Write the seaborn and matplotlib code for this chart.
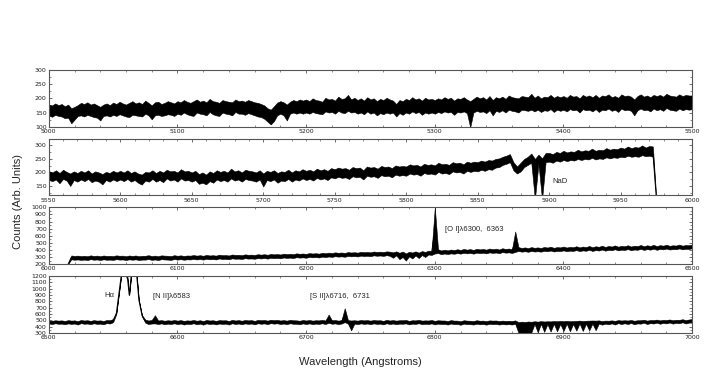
import seaborn as sns
import matplotlib.pyplot as plt
import numpy as np
from matplotlib.ticker import MultipleLocator, AutoMinorLocator

sns.set_theme(style="ticks")
plt.rcParams['font.family'] = ['DejaVu Sans']

# wavelength grids (Angstroms), 2.5 A bins
wl_1 = np.arange(5000, 5500.1, 2.5)
wl_2 = np.arange(5550, 5975.1, 2.5)
wl_3 = np.arange(6015, 6500.1, 2.5)
wl_4 = np.arange(6500, 7000.1, 2.5)

# lower / upper edge of the noisy spectrum in each bin
hi_1 = [178,175,182,176,180,172,178,165,170,176,184,180,186,178,182,176,170,178,182,176,
        185,180,188,182,178,184,190,182,186,180,192,184,175,186,188,180,184,190,186,182,
        190,186,194,188,184,190,196,188,192,186,198,190,188,184,194,190,188,186,196,190,
        192,188,194,190,186,184,180,175,165,160,172,185,190,186,178,188,194,190,196,192,
        196,190,200,194,192,188,202,196,198,192,206,198,200,212,196,202,194,200,192,204,
        196,200,190,198,194,202,196,192,180,194,190,198,194,204,196,200,192,202,196,198,
        194,200,196,204,198,202,192,200,198,204,196,190,198,206,200,204,196,208,194,204,
        200,206,198,210,204,202,200,208,206,204,216,202,210,200,206,204,212,202,208,204,
        208,202,212,206,208,200,212,206,210,204,212,202,210,208,214,204,208,202,214,208,
        210,206,196,208,214,206,210,204,212,208,212,206,216,210,208,206,214,208,212,210,
        210]
lo_1 = [140,135,142,138,136,130,132,112,125,138,140,136,142,138,134,132,122,138,140,136,
        142,138,144,140,136,134,142,140,138,136,146,140,126,140,142,138,140,144,142,138,
        146,142,150,144,140,138,150,146,144,140,152,144,140,138,150,146,144,140,152,146,
        146,142,148,144,140,136,134,128,118,108,120,140,146,140,122,146,150,146,150,146,
        150,146,152,148,146,144,154,150,152,146,156,150,148,156,150,152,146,150,144,154,
        146,150,140,148,144,150,146,150,136,148,142,150,146,154,148,152,142,150,146,150,
        146,152,148,154,150,152,142,152,150,154,148,98,150,156,152,154,148,158,140,156,
        152,158,150,160,156,154,150,160,158,156,160,154,160,152,158,156,162,152,160,156,
        160,154,162,158,160,150,162,158,160,154,162,152,160,158,164,156,160,152,164,158,
        160,156,140,158,164,158,160,154,164,158,162,156,166,160,158,156,164,158,162,160,
        162]

hi_2 = [205,200,208,198,210,202,196,204,198,206,200,208,196,204,200,194,202,198,206,200,
        206,200,208,198,204,196,192,202,200,208,198,206,200,210,204,206,200,212,204,206,
        200,206,194,200,192,204,198,208,202,206,200,214,204,208,200,210,206,204,200,208,
        196,206,202,208,198,204,202,210,200,208,204,212,206,210,204,214,208,212,206,216,
        212,218,214,216,210,220,216,218,208,222,218,220,214,224,220,222,216,226,222,224,
        222,230,226,228,222,232,228,230,226,236,230,232,228,238,234,236,230,240,236,240,
        238,244,240,246,244,250,252,258,262,268,238,222,236,250,258,270,250,266,252,272,
        272,268,276,272,280,274,278,276,284,278,282,280,288,280,284,282,290,284,288,286,
        292,288,296,290,294,292,300,292,298,296,100]
lo_2 = [172,168,174,160,176,170,150,172,166,174,168,176,164,170,166,156,172,166,174,168,
        174,168,176,166,172,162,155,170,166,176,166,172,164,178,170,174,166,178,170,172,
        166,172,158,162,156,168,162,174,168,172,166,178,170,174,166,176,172,170,166,174,
        148,172,168,174,162,170,168,176,166,174,170,178,172,176,170,180,174,178,172,182,
        178,184,180,182,176,186,182,184,174,188,184,186,180,190,186,188,182,192,188,190,
        188,196,192,194,188,198,194,196,192,202,196,198,194,204,200,202,196,206,202,206,
        204,210,206,212,210,218,220,228,232,238,208,196,204,220,228,236,100,232,100,238,
        240,236,244,240,246,242,246,244,250,246,250,248,254,248,252,250,256,252,256,254,
        258,256,262,258,260,258,264,260,262,258,100]

hi_3 = [200,322,316,320,314,318,312,324,316,320,312,322,316,318,314,324,318,320,312,322,
        316,322,312,318,318,326,314,320,312,324,320,318,314,326,318,324,316,322,320,328,
        320,326,318,330,322,326,320,334,326,328,322,336,330,332,326,338,332,334,330,340,
        334,340,332,344,338,342,336,348,342,346,340,352,346,350,344,356,350,354,348,360,
        354,362,356,366,360,364,358,370,364,368,362,374,368,372,366,378,372,376,370,380,
        376,366,380,360,378,350,374,364,380,362,384,372,390,386,1000,410,392,404,394,406,
        398,410,400,414,404,412,400,416,408,414,404,420,410,418,406,424,414,420,410,660,
        440,428,436,426,440,430,436,428,442,434,446,430,440,436,448,434,444,438,452,436,
        448,440,456,438,452,444,460,442,456,448,464,446,458,452,466,448,460,454,470,452,
        466,456,472,454,468,460,474,458,466,462,476,460,470,466,478]
lo_3 = [200,268,262,266,260,264,258,270,262,266,258,268,262,264,260,270,264,266,258,268,
        262,268,258,264,264,272,260,266,258,270,266,264,260,272,264,270,262,268,266,274,
        266,272,264,276,268,272,266,280,272,274,268,282,276,278,272,284,278,280,276,286,
        280,286,278,290,284,288,282,294,288,292,286,298,292,296,290,302,296,300,294,306,
        300,308,302,312,306,310,304,316,310,314,308,320,314,318,312,324,318,322,316,326,
        318,290,324,270,300,250,310,280,322,286,328,300,336,330,350,356,340,350,342,352,
        346,356,348,360,352,358,348,362,356,360,352,366,358,364,354,370,362,366,358,372,
        386,376,382,374,386,378,382,376,388,382,392,378,386,384,394,382,390,386,398,384,
        394,388,402,386,398,392,406,390,402,396,410,394,404,400,412,396,406,402,416,400,
        412,404,418,402,414,408,420,406,412,410,422,408,416,414,424]

hi_4 = [496,490,500,494,498,488,502,494,498,486,504,496,500,490,502,494,498,488,504,500,
        520,620,1000,1400,1400,900,1400,1400,820,580,510,496,504,580,496,502,492,500,494,504,
        494,502,490,498,494,504,492,500,488,504,496,500,490,502,498,500,488,506,496,502,
        492,504,498,502,490,506,500,504,494,508,502,506,496,502,494,506,500,498,492,504,
        496,504,494,500,498,506,496,590,500,504,494,502,690,502,496,500,494,504,498,502,
        494,504,498,500,490,506,496,502,494,500,500,504,490,500,498,506,494,498,496,504,
        490,500,496,496,488,502,494,494,484,500,494,492,488,500,492,494,486,498,494,496,
        488,494,490,492,488,498,470,478,472,480,476,484,478,486,480,484,482,488,484,490,
        486,490,484,488,490,494,488,492,494,496,494,498,486,494,492,498,490,502,496,500,
        496,504,492,500,500,508,494,504,502,510,498,506,504,512,500,508,506,516,502,512,
        520]
lo_4 = [448,440,452,444,446,436,450,442,448,432,454,444,448,438,452,442,446,436,454,448,
        470,600,1000,1400,1400,900,1400,1400,820,560,460,440,448,450,440,450,436,446,440,452,
        438,448,432,444,440,452,436,446,430,450,440,446,434,448,442,446,432,452,440,448,
        436,450,442,448,434,452,444,450,438,454,446,452,440,448,438,452,444,444,436,450,
        440,450,438,446,442,452,440,460,444,450,438,448,470,446,340,446,438,450,442,448,
        438,450,442,446,434,452,440,448,438,446,444,450,434,446,442,452,438,444,440,450,
        434,446,440,442,432,448,438,440,428,446,438,438,432,446,436,440,430,444,438,442,
        432,440,434,438,432,444,300,300,300,300,305,440,310,442,315,438,320,444,325,440,
        330,446,325,440,335,448,330,444,340,446,342,448,430,446,436,450,432,454,440,452,
        440,456,436,450,446,460,440,454,448,462,444,458,450,464,446,460,452,468,448,462,
        470]

panels = [
    (wl_1, lo_1, hi_1, (5000, 5500), (100, 300), 100, 50),
    (wl_2, lo_2, hi_2, (5550, 6000), (115, 325), 50, 50),
    (wl_3, lo_3, hi_3, (6000, 6500), (200, 1000), 100, 100),
    (wl_4, lo_4, hi_4, (6500, 7000), (300, 1200), 100, 100),
]

fig, axes = plt.subplots(4, 1, figsize=(7.07, 3.74), dpi=100)
plt.subplots_adjust(left=0.069, right=0.979, top=0.813, bottom=0.11, hspace=0.21)

for ax, (wl, lo, hi, xl, yl, xstep, ystep) in zip(axes, panels):
    # each bin has its low and high reading; band spans min..max
    sns.lineplot(x=np.concatenate([wl, wl]), y=np.concatenate([lo, hi]), ax=ax,
                 color='black', lw=0.7,
                 errorbar=lambda v: (v.min(), v.max()),
                 err_kws={'alpha': 1, 'linewidth': 0.4, 'edgecolor': 'black'})
    ax.set_xlim(*xl)
    ax.set_ylim(*yl)
    ax.xaxis.set_major_locator(MultipleLocator(xstep))
    ax.yaxis.set_major_locator(MultipleLocator(ystep))
    ax.xaxis.set_minor_locator(AutoMinorLocator())
    ax.yaxis.set_minor_locator(AutoMinorLocator(2))
    ax.tick_params(which='both', direction='in', top=True, right=True,
                   labelsize=4.5, pad=1.5, colors='#333333', labelcolor='#222222')
    ax.tick_params(which='major', length=2.5, width=0.5)
    ax.tick_params(which='minor', length=1.2, width=0.4)
    for s in ax.spines.values():
        s.set_color('#555555')
        s.set_linewidth(0.8)
    ax.set_xlabel('')
    ax.set_ylabel('')

lab = dict(family=['Liberation Sans', 'DejaVu Sans'], fontsize=5.5)
axes[1].text(5902, 166, 'NaD', va='center', **lab)
axes[2].text(6308, 690, '[O I]λ6300,  6363', va='center', **lab)
axes[3].text(6543, 900, 'Hα', va='center', **lab)
axes[3].text(6581, 870, '[N II]λ6583', va='center', **lab)
axes[3].text(6703, 870, '[S II]λ6716,  6731', va='center', **lab)

fig.text(0.026, 0.46, 'Counts (Arb. Units)', rotation=90, va='center', ha='center',
         family=['Liberation Sans', 'DejaVu Sans'], fontsize=8)
fig.text(0.51, 0.032, 'Wavelength (Angstroms)', va='center', ha='center',
         family=['Liberation Sans', 'DejaVu Sans'], fontsize=8)

plt.savefig('out.png', dpi=100)
